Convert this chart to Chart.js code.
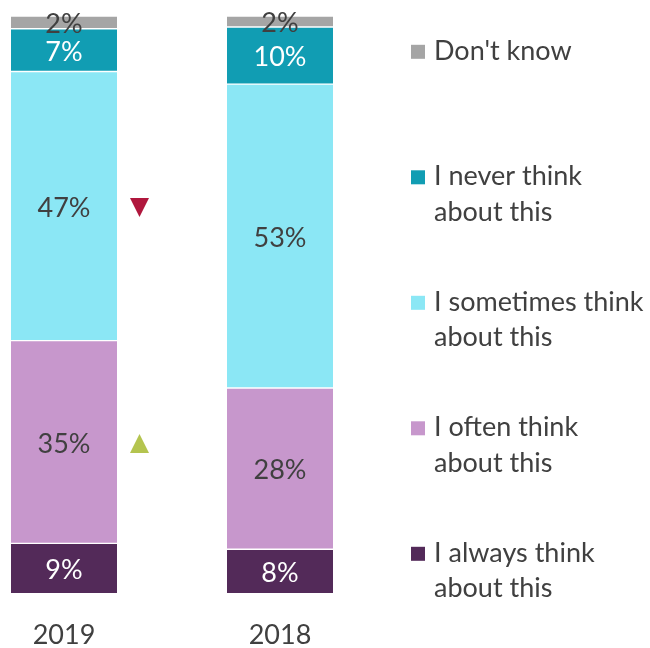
<!DOCTYPE html>
<html>
<head>
<meta charset="utf-8">
<script src="https://cdn.jsdelivr.net/npm/chart.js@4/dist/chart.umd.min.js"></script>
<style>
  html, body { margin: 0; padding: 0; background: #ffffff; }
  #wrap { width: 650px; height: 648px; }
</style>
</head>
<body>
<div id="wrap"><canvas id="c" width="650" height="648"></canvas></div>
<script>
// ---- data ----
const categories = ['2019', '2018'];
const seriesNames = [
  'I always think\nabout this',
  'I often think\nabout this',
  'I sometimes think\nabout this',
  'I never think\nabout this',
  "Don't know"
];
const alwaysThink = [8.7, 7.7];
const oftenThink = [35.1, 27.9];
const sometimesThink = [46.6, 52.6];
const neverThink = [7.4, 9.9];
const dontKnow = [2.2, 1.9];
// significance markers per category, in series order
const changes2019 = ['', 'up', 'down', '', ''];
const changes2018 = ['', '', '', '', ''];

// ---- styles ----
const seriesColors = ['#532a59', '#c797cc', '#8be7f5', '#119db3', '#a5a5a5'];
const labelColors = ['#ffffff', '#404040', '#404040', '#ffffff', '#404040'];
const FONT = 'Lato';
const FS = 27;
const TEXT = '#404040';

const seriesValues = [alwaysThink, oftenThink, sometimesThink, neverThink, dontKnow];
const changes = [changes2019, changes2018];

const datasets = seriesValues.map((vals, i) => ({
  label: seriesNames[i].replace('\n', ' '),
  data: vals,
  backgroundColor: seriesColors[i],
  borderColor: '#ffffff',
  borderWidth: { top: 1, bottom: 1, left: 0, right: 0 },
  borderSkipped: false,
  barThickness: 106,
  clip: false
}));

const overlayPlugin = {
  id: 'overlay',
  afterDatasetsDraw(chart) {
    const ctx = chart.ctx;
    chart.data.datasets.forEach((ds, di) => {
      const meta = chart.getDatasetMeta(di);
      meta.data.forEach((bar, i) => {
        const v = ds.data[i];
        const yc = (bar.y + bar.base) / 2;
        ctx.save();
        ctx.font = FS + 'px ' + FONT;
        ctx.fillStyle = labelColors[di];
        ctx.textAlign = 'center';
        ctx.textBaseline = 'middle';
        ctx.fillText(Math.round(v) + '%', bar.x, yc + 2);
        const m = changes[i][di];
        if (m) {
          const cx = bar.x + 75.5;
          const ym = yc + 1.5;
          const h = 19, w = 19;
          ctx.beginPath();
          if (m === 'up') {
            ctx.fillStyle = '#b4c44f';
            ctx.moveTo(cx, ym - h / 2);
            ctx.lineTo(cx + w / 2, ym + h / 2);
            ctx.lineTo(cx - w / 2, ym + h / 2);
          } else {
            ctx.fillStyle = '#b0173d';
            ctx.moveTo(cx - w / 2, ym - h / 2);
            ctx.lineTo(cx + w / 2, ym - h / 2);
            ctx.lineTo(cx, ym + h / 2);
          }
          ctx.closePath();
          ctx.fill();
        }
        ctx.restore();
      });
    });
  },
  afterDraw(chart) {
    const ctx = chart.ctx;
    ctx.save();
    ctx.font = FS + 'px ' + FONT;
    ctx.textAlign = 'left';
    ctx.textBaseline = 'alphabetic';
    const n = seriesNames.length;
    for (let k = 0; k < n; k++) {
      const si = n - 1 - k; // top to bottom: reverse of stacking
      const base = 59.8 + k * 125.5;
      ctx.fillStyle = seriesColors[si];
      ctx.fillRect(411, base - 15, 14, 14);
      ctx.fillStyle = TEXT;
      seriesNames[si].split('\n').forEach((line, li) => {
        ctx.fillText(line, 434, base + li * 35.5);
      });
    }
    ctx.restore();
  }
};

function build() {
  new Chart(document.getElementById('c'), {
    type: 'bar',
    data: { labels: categories, datasets: datasets },
    options: {
      responsive: false,
      animation: false,
      layout: { padding: { left: 64, right: 370, top: 16, bottom: 0 } },
      plugins: { legend: { display: false }, tooltip: { enabled: false } },
      scales: {
        x: {
          type: 'category',
          offset: false,
          stacked: true,
          grid: { display: false, drawTicks: false },
          border: { display: false },
          ticks: {
            font: { family: FONT, size: FS },
            color: TEXT,
            padding: 25,
            maxRotation: 0,
            autoSkip: false
          },
          afterFit(s) { s.height = 54.3; }
        },
        y: { stacked: true, display: false, min: 0, max: 100 }
      }
    },
    plugins: [overlayPlugin]
  });
}

if (document.fonts && document.fonts.load) {
  document.fonts.load(FS + 'px ' + FONT).then(build, build);
} else {
  build();
}
</script>
</body>
</html>
